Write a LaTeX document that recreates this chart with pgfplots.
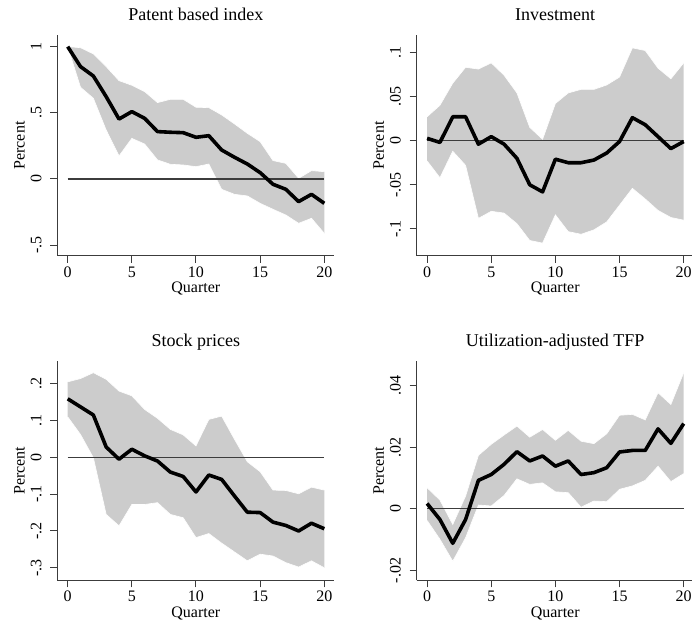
\documentclass[border=0pt]{standalone}
\usepackage{fontspec}
\setmainfont{Liberation Serif}
\usepackage{pgfplots}
\usepackage{pgfplotstable}
\pgfplotsset{compat=1.18}
\usepgfplotslibrary{fillbetween}

\pgfplotstableread{
q mean up lo
0 1.000 1.000 1.000
1 0.849 0.992 0.693
2 0.778 0.945 0.610
3 0.622 0.849 0.370
4 0.453 0.743 0.174
5 0.509 0.708 0.307
6 0.458 0.660 0.264
7 0.358 0.577 0.144
8 0.353 0.602 0.111
9 0.350 0.602 0.106
10 0.315 0.542 0.093
11 0.327 0.539 0.113
12 0.219 0.484 -0.078
13 0.164 0.416 -0.116
14 0.113 0.345 -0.128
15 0.048 0.282 -0.184
16 -0.040 0.139 -0.229
17 -0.078 0.118 -0.272
18 -0.171 0.005 -0.335
19 -0.116 0.063 -0.297
20 -0.184 0.055 -0.411
}\tPatent

\pgfplotstableread{
q mean up lo
0 0.0026 0.027 -0.023
1 -0.002 0.040 -0.042
2 0.027 0.065 -0.012
3 0.027 0.083 -0.028
4 -0.004 0.081 -0.088
5 0.0045 0.088 -0.080
6 -0.004 0.074 -0.082
7 -0.020 0.054 -0.094
8 -0.050 0.015 -0.113
9 -0.058 0.0015 -0.116
10 -0.021 0.042 -0.084
11 -0.025 0.054 -0.103
12 -0.025 0.058 -0.106
13 -0.022 0.058 -0.101
14 -0.014 0.063 -0.092
15 -0.001 0.072 -0.073
16 0.026 0.105 -0.054
17 0.018 0.102 -0.066
18 0.0045 0.082 -0.079
19 -0.009 0.070 -0.087
20 -0.001 0.088 -0.090
}\tInv

\pgfplotstableread{
q mean up lo
0 0.159 0.205 0.110
1 0.137 0.214 0.062
2 0.115 0.230 -0.001
3 0.028 0.212 -0.155
4 -0.005 0.180 -0.186
5 0.022 0.167 -0.128
6 0.004 0.130 -0.128
7 -0.010 0.106 -0.123
8 -0.040 0.076 -0.155
9 -0.052 0.061 -0.164
10 -0.094 0.031 -0.218
11 -0.048 0.103 -0.207
12 -0.060 0.112 -0.233
13 -0.105 0.049 -0.257
14 -0.149 -0.012 -0.281
15 -0.150 -0.039 -0.263
16 -0.176 -0.089 -0.268
17 -0.185 -0.090 -0.286
18 -0.200 -0.099 -0.298
19 -0.179 -0.081 -0.281
20 -0.194 -0.089 -0.300
}\tStock

\pgfplotstableread{
q mean up lo
0 0.0017 0.0068 -0.0038
1 -0.0035 0.0028 -0.0099
2 -0.0112 -0.0051 -0.0170
3 -0.0035 0.0041 -0.0094
4 0.0092 0.0173 0.0012
5 0.0111 0.0209 0.0009
6 0.0144 0.0239 0.0043
7 0.0185 0.0268 0.0097
8 0.0155 0.0232 0.0079
9 0.0171 0.0257 0.0084
10 0.0138 0.0222 0.0055
11 0.0155 0.0254 0.0052
12 0.0111 0.0219 0.0005
13 0.0117 0.0211 0.0025
14 0.0133 0.0243 0.0023
15 0.0184 0.0303 0.0063
16 0.0189 0.0306 0.0074
17 0.0189 0.0288 0.0092
18 0.0259 0.0376 0.0138
19 0.0212 0.0338 0.0088
20 0.0276 0.0441 0.0114
}\tTFP

\definecolor{band}{RGB}{204,204,204}
\definecolor{spine}{RGB}{60,60,60}

\pgfplotsset{panel/.style={
  scale only axis, width=277pt,
  axis lines*=left,
  axis line style={line width=1pt, color=spine},
  tick style={line width=1pt, color=spine},
  tick align=outside, major tick length=7pt,
  xmin=-0.81, xmax=20.78,
  xtick={0,5,10,15,20},
  scaled y ticks=false, scaled x ticks=false,
  /pgf/number format/assume math mode=true,
  ticklabel style={font=\fontsize{16}{19}\selectfont},
  yticklabel style={rotate=90, anchor=base},
  yticklabel shift=9pt,
  label style={font=\fontsize{16}{19}\selectfont},
  xlabel={Quarter}, ylabel={Percent},
  title style={font=\fontsize{18}{21}\selectfont, at={(0.5,1)}, anchor=base, yshift=8pt},
  xlabel style={at={(axis description cs:0.5,0)}, anchor=base, yshift=-37pt},
  ylabel style={at={(axis description cs:-0.1184,0.5)}, anchor=base},
  clip=false,
}}

\newcommand{\panelplots}[1]{%
  \addplot[name path=u, draw=white, line width=0.6pt] table[x=q,y=up]{#1};
  \addplot[name path=l, draw=white, line width=0.6pt] table[x=q,y=lo]{#1};
  \addplot[band] fill between[of=u and l];
  \addplot[spine, line width=1.2pt] coordinates {(0,0) (20,0)};
  \addplot[black, line width=3.6pt, line join=round] table[x=q,y=mean]{#1};
}

\begin{document}
\begin{tikzpicture}[x=1pt,y=1pt]
\begin{axis}[panel, at={(57.3pt,367pt)}, anchor=south west, height=221pt,
  ymin=-0.582, ymax=1.088, ytick={-0.5,0,0.5,1}, yticklabels={-.5,0,.5,1},
  title={Patent based index}]
\panelplots{\tPatent}
\end{axis}
\begin{axis}[panel, at={(416.7pt,367pt)}, anchor=south west, height=221pt,
  ymin=-0.1306, ymax=0.1196, ytick={-0.1,-0.05,0,0.05,0.1}, yticklabels={-.1,-.05,0,.05,.1},
  title={Investment}]
\panelplots{\tInv}
\end{axis}
\begin{axis}[panel, at={(57.3pt,42.7pt)}, anchor=south west, height=219.3pt,
  ymin=-0.334, ymax=0.2617, ytick={-0.3,-0.2,-0.1,0,0.1,0.2}, yticklabels={-.3,-.2,-.1,0,.1,.2},
  title={Stock prices}]
\panelplots{\tStock}
\end{axis}
\begin{axis}[panel, at={(416.7pt,42.7pt)}, anchor=south west, height=219.3pt,
  ymin=-0.0232, ymax=0.0479, ytick={-0.02,0,0.02,0.04}, yticklabels={-.02,0,.02,.04},
  title={Utilization-adjusted TFP}]
\panelplots{\tTFP}
\end{axis}
\pgfresetboundingbox
\path[use as bounding box] (0,0) rectangle (692pt,623pt);
\end{tikzpicture}
\end{document}
